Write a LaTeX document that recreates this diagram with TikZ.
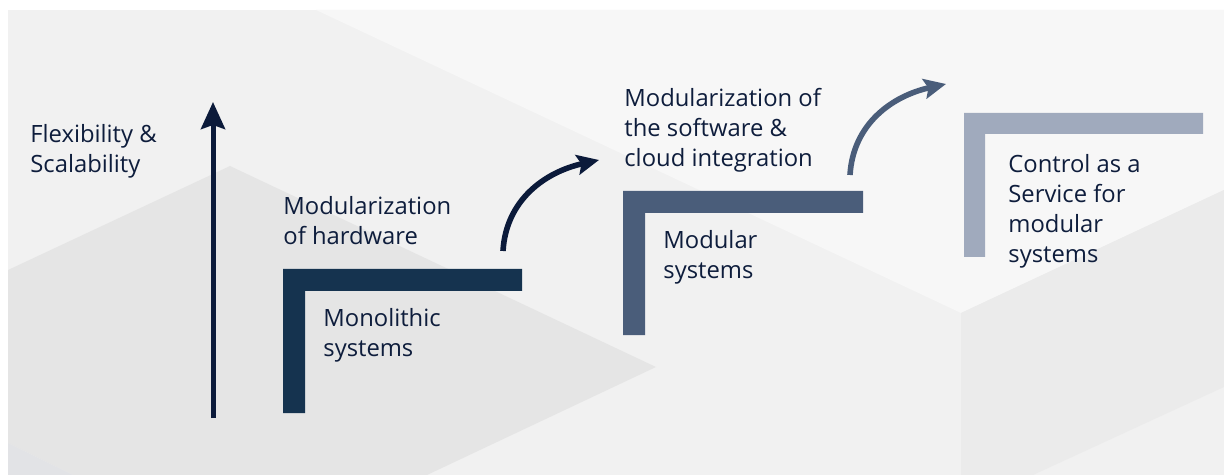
\documentclass[tikz,border=0pt]{standalone}
\usepackage{fontspec}
\setmainfont{Open Sans}
\usetikzlibrary{arrows.meta}

\definecolor{bgbase}{HTML}{F1F1F1}
\definecolor{bglight}{HTML}{F7F7F7}
\definecolor{bgdark}{HTML}{E5E5E5}
\definecolor{bgright}{HTML}{EBEBEB}
\definecolor{bgcorner}{HTML}{E2E3E6}
\definecolor{navy}{HTML}{0B1A3A}
\definecolor{textnavy}{HTML}{0E1D3C}
\definecolor{stepone}{HTML}{15334F}
\definecolor{steptwo}{HTML}{4A5D7A}
\definecolor{stepthree}{HTML}{A0AABD}

\begin{document}
\begin{tikzpicture}[x=0.5pt,y=-0.5pt,
      every node/.style={anchor=base west,inner sep=0pt,align=left,text=textnavy,
        font=\fontsize{11.9}{15}\selectfont},
      riser/.style={-{Stealth[length=11pt,width=10pt,inset=2pt]},line width=2.8pt}]
  \useasboundingbox (0,0) rectangle (1224,475);
  \fill[white] (0,0) rectangle (1224,475);
  \fill[bgbase] (8,10) rectangle (1224,475);
  \fill[bglight] (316,10) -- (1224,10) -- (1224,190) -- (961,313) -- cycle;
  \fill[bgright] (961,313) -- (1224,190) -- (1224,387) -- (1033,475) -- (961,475) -- cycle;
  \fill[bgdark] (8,270) -- (230,166) -- (656,367) -- (427,475) -- (73,475) -- (8,443) -- cycle;
  \fill[bgcorner] (8,443) -- (73,475) -- (8,475) -- cycle;

  \fill[stepone] (283,413) -- (283,269) -- (522,269) -- (522,291) -- (305,291) -- (305,413) -- cycle;
  \fill[steptwo] (623,335) -- (623,191) -- (863,191) -- (863,213) -- (645,213) -- (645,335) -- cycle;
  \fill[stepthree] (964,257) -- (964,113) -- (1203,113) -- (1203,134) -- (985,134) -- (985,257) -- cycle;

  \node (flex) at (30,173) {Flexibility \&\\Scalability};
  \node (hw) at (283,245) {Modularization\\of hardware};
  \node (mono) at (323,357) {Monolithic\\systems};
  \node (sw) at (624,167) {Modularization of\\the software \&\\cloud integration};
  \node (modular) at (663,279) {Modular\\systems};
  \node (caas) at (1008,263) {Control as a\\Service for\\modular\\systems};

  \coordinate (axisfoot) at (213,418);
  \coordinate (axistop) at (213,102);
  \coordinate (hwend) at (503,251);
  \coordinate (swstart) at (599,160);
  \coordinate (swend) at (850,175);
  \coordinate (caasstart) at (946,84);

  \draw[-{Stealth[length=13.5pt,width=12pt,inset=2pt]},line width=2.5pt,navy] (axisfoot) -- (axistop);
  \draw[riser,navy] (hwend) .. controls +(3,-51) and +(-54,12) .. (swstart);
  \draw[riser,steptwo] (swend) .. controls +(3,-51) and +(-54,12) .. (caasstart);
\end{tikzpicture}
\end{document}
